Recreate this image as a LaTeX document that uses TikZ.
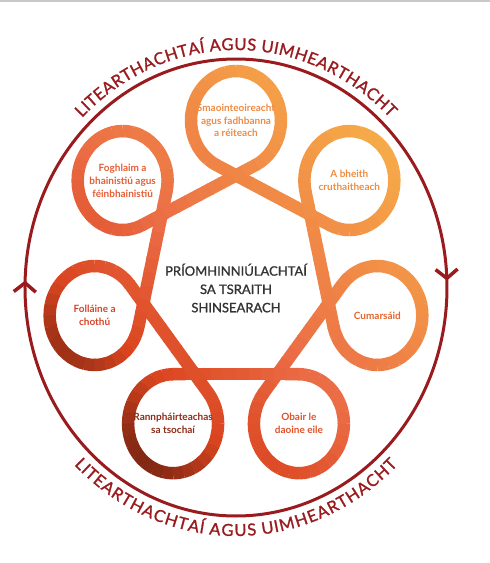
\documentclass[tikz,border=0pt]{standalone}
\usepackage{fontspec}
\setmainfont{Lato}
\newfontfamily\corefont{Lato}[FakeBold=1.2]
\usetikzlibrary{arrows.meta, calc, decorations.markings, decorations.text}
\definecolor{RingRed}{HTML}{991B1E}
\definecolor{CoreGrey}{HTML}{333333}
\definecolor{FrameGrey}{HTML}{C9C9C9}
\definecolor{BandBrown}{HTML}{7A2512}
\definecolor{BandRed}{HTML}{D9441F}
\definecolor{BandSalmon}{HTML}{EB6C45}
\definecolor{BandLight}{HTML}{F7AE48}
\definecolor{SkillA}{HTML}{EE8B45}
\definecolor{SkillB}{HTML}{EE8D40}
\definecolor{SkillC}{HTML}{E5652E}
\definecolor{SkillD}{HTML}{E2522A}
\definecolor{SkillE}{HTML}{8C2C18}
\definecolor{SkillF}{HTML}{D8442A}
\definecolor{SkillG}{HTML}{E45E36}

% ribbon colour at (x,y): diagonal gradient brown -> red -> salmon -> light orange
\newcommand\bandcolour[2]{%
  \pgfmathsetmacro\tpos{max(0,min(1,(#1+#2+286)/585))}%
  \ifdim\tpos pt<0.18pt
    \pgfmathtruncatemacro\pmix{100*\tpos/0.18}\colorlet{bandcol}{BandRed!\pmix!BandBrown}%
  \else\ifdim\tpos pt<0.45pt
    \pgfmathtruncatemacro\pmix{100*(\tpos-0.18)/0.27}\colorlet{bandcol}{BandSalmon!\pmix!BandRed}%
  \else
    \pgfmathtruncatemacro\pmix{100*(\tpos-0.45)/0.55}\colorlet{bandcol}{BandLight!\pmix!BandSalmon}%
  \fi\fi}

\begin{document}
\begin{tikzpicture}[x=1pt, y=1pt,
			band/.style={line width=12.5pt, draw=bandcol},
			skill/.style={font=\bfseries\fontsize{10}{12.8}\selectfont, align=center},
			core/.style={font=\corefont\fontsize{13}{18.3}\selectfont, align=center, text=CoreGrey},
			ring/.style={draw=RingRed, line width=3pt},
			ringtext/.style={decorate, decoration={text along path, text align=center, text color=RingRed,
				text={|\corefont\fontsize{16.5}{16.5}\selectfont|LITEARTHACHTAÍ AGUS UIMHEARTHACHT}, #1}}
		]
			\useasboundingbox (-236,-283) rectangle (254,280);
			\draw[FrameGrey, line width=2pt] (-236,279) -- (254,279);
			\begin{scope}[yscale=1.1]
				\foreach \k in {0,...,6} \coordinate (loop\k) at (90-\k*360/7:145);
				\foreach \k in {0,...,6} {
					\pgfmathsetmacro\tht{90-\k*360/7}
					\pgfmathsetmacro\gam{\tht+154.286}
					\pgfmathtruncatemacro\nx{mod(\k+1,7)}
					% loop round the circle
					\foreach \j in {0,...,23} {
						\pgfmathsetmacro\ang{\tht+205.714+\j*12.857}
						\bandcolour{145*cos(\tht)+45*cos(\ang+6.4)}{1.1*(145*sin(\tht)+45*sin(\ang+6.4))}
						\draw[band] (loop\k) ++(\ang:45) arc[start angle=\ang, end angle=\ang+13.5, radius=45];
					}
					% straight run to the next loop
					\coordinate (run\k) at ($(loop\k)+(\gam:45)$);
					\coordinate (end\k) at ($(loop\nx)+(\gam:45)$);
					\foreach \j in {0,...,9} {
						\pgfmathsetmacro\tpart{(\j+0.5)/10}
						\bandcolour{145*((1-\tpart)*cos(\tht)+\tpart*cos(\tht-51.429))+45*cos(\gam)}{1.1*(145*((1-\tpart)*sin(\tht)+\tpart*sin(\tht-51.429))+45*sin(\gam))}
						\draw[band] ($(run\k)!\j/10!(end\k)$) -- ($(run\k)!\j/10+0.11!(end\k)$);
					}
				}
			\end{scope}
			\node at (loop0) [skill, text=SkillA] (nodeThinking) {Smaointeoireacht\\agus fadhbanna\\a réiteach};
			\node at (loop1) [skill, text=SkillB] (nodeCreative) {A bheith\\cruthaitheach};
			\node at (loop2) [skill, text=SkillC] (nodeCommunicating) {Cumarsáid};
			\node at (loop3) [skill, text=SkillD] (nodeWorking) {Obair le\\daoine eile};
			\node at (loop4) [skill, text=SkillE] (nodeParticipating) {Rannpháirteachas\\sa tsochaí};
			\node at (loop5) [skill, text=SkillF] (nodeWellbeing) {Folláine a\\chothú};
			\node at (loop6) [skill, text=SkillG] (nodeManaging) {Foghlaim a\\bhainistiú agus\\féinbhainistiú};
			\node at (0,-8) [core] (nodeCore) {PRÍOMHINNIÚLACHTAÍ\\SA TSRAITH\\SHINSEARACH};
			\draw[ring, postaction={decorate}, decoration={markings,
					mark=at position 0.245 with {\arrow{Straight Barb[length=9pt,width=22pt,line width=3.5pt]}},
					mark=at position 0.755 with {\arrow{Straight Barb[length=9pt,width=22pt,line width=3.5pt]}}}]
				(0,-7.5) ++(90:211 and 228.5) arc[start angle=90, end angle=-270, x radius=211, y radius=228.5];
			\path[ringtext={raise=9pt}] (0,-7.5) ++(140:211 and 228.5) arc[start angle=140, end angle=40, x radius=211, y radius=228.5];
			\path[ringtext={raise=-20pt}] (0,-7.5) ++(220:211 and 228.5) arc[start angle=220, end angle=320, x radius=211, y radius=228.5];
		\end{tikzpicture}
\end{document}
